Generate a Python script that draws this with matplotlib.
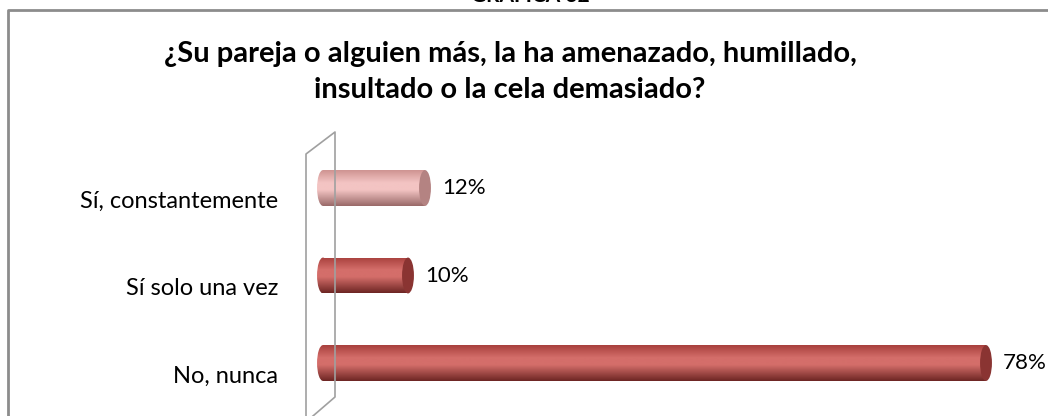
import matplotlib.pyplot as plt
import numpy as np
from matplotlib.patches import Ellipse, Rectangle
from matplotlib.lines import Line2D
from matplotlib.colors import LinearSegmentedColormap

# Datos de la gráfica
categorias = ['No, nunca', 'Sí solo una vez', 'Sí, constantemente']
valores = [78, 10, 12]
etiquetas = ['78%', '10%', '12%']
titulo = '¿Su pareja o alguien más, la ha amenazado, humillado,\ninsultado o la cela demasiado?'
encabezado = 'GRAFICA 32'

# colores: (arriba, brillo, abajo, tapa)
colores = [
    ('#a8403d', '#d46e6a', '#6e2624', '#8a3432'),
    ('#a8403d', '#d46e6a', '#6e2624', '#8a3432'),
    ('#cf9492', '#f3c4c3', '#9a6a69', '#b48382'),
]

W, H = 1048, 416
plt.rcParams['font.family'] = ['Lato', 'DejaVu Sans']
fig = plt.figure(figsize=(W / 100, H / 100), dpi=100)
ax = fig.add_axes([0, 0, 1, 1])
ax.axis('off')

# escala: 0% en x=323 px, 8.5 px por punto; categorías cada 87.5 px
x0, sx = 323, 8.5
y0, sy = 363, 87.5

def fx(px):
    return px / W

def fy(py):
    return 1 - py / H

# marco del gráfico
fig.add_artist(Line2D([fx(8), fx(8), fx(W + 5)], [fy(H + 5), fy(10), fy(10)],
                      color='#8c8c8c', lw=2))

# pared 3D
pared = dict(color='#a0a0a0', lw=1.2)
fig.add_artist(Line2D([fx(306), fx(306), fx(335), fx(335), fx(306)],
                      [fy(H + 5), fy(154), fy(132), fy(397), fy(422)], **pared))

# encabezado (recortado por el borde superior, como en el original)
fig.text(fx(530), fy(6), encabezado, ha='center', va='bottom',
         fontsize=15, fontweight='bold')
fig.text(fx(510), fy(72), titulo, ha='center', va='center',
         fontsize=21, fontweight='bold', linespacing=1.45)

alto = 0.41
ew = 1.4
for i, (cat, val, et, col) in enumerate(zip(categorias, valores, etiquetas, colores)):
    top, hi, bot, cap = col
    cmap = LinearSegmentedColormap.from_list('c', [(0, top), (0.35, hi), (0.55, hi), (1, bot)])
    grad = np.linspace(0, 1, 100).reshape(-1, 1)
    ext = (-ew / 2, val, i - alto / 2, i + alto / 2)
    # cuerpo del cilindro
    img = ax.imshow(grad, cmap=cmap, aspect='auto', extent=ext, origin='upper', zorder=2)
    img.set_clip_path(Rectangle((0, i - alto / 2), val, alto, transform=ax.transData))
    # extremo redondeado izquierdo
    img2 = ax.imshow(grad, cmap=cmap, aspect='auto', extent=ext, origin='upper', zorder=2)
    img2.set_clip_path(Ellipse((0, i), ew, alto, transform=ax.transData))
    # tapa derecha
    ax.add_patch(Ellipse((val, i), ew, alto, facecolor=cap, edgecolor='none', zorder=3))
    ax.text(val + 2.0, i, et, ha='left', va='center', fontsize=16)
    ax.text(-45 / sx, i - 0.15, cat, ha='right', va='center', fontsize=17)

ax.set_xlim(-x0 / sx, (W - x0) / sx)
ax.set_ylim((y0 - H) / sy, y0 / sy)

fig.savefig('out.png', dpi=100)
